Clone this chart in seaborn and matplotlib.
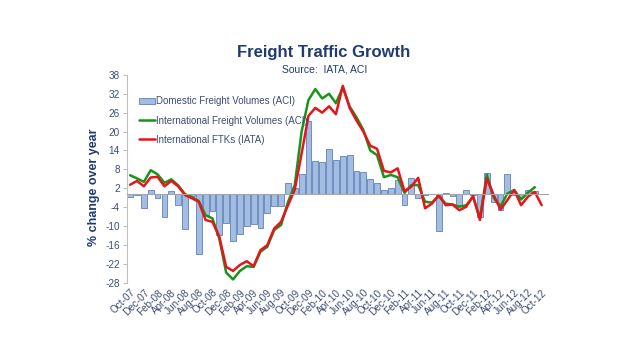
import matplotlib
matplotlib.use("Agg")
import matplotlib.pyplot as plt
import seaborn as sns
import pandas as pd
import numpy as np

# monthly, Oct-07 .. Oct-12
months = pd.date_range("2007-10-01", "2012-10-01", freq="MS").strftime("%b-%y").tolist()

domestic = [-0.9, -0.2, -4.4, 1.5, -1.1, -7.0, 1.1, -3.4, -11.1, -0.4,
            -19.0, -6.5, -5.1, -12.9, -9.2, -14.7, -12.4, -10.1, -9.5, -10.6,
            -6.0, -3.6, -3.6, 3.8, 2.0, 6.5, 23.3, 10.6, 10.3, 14.6,
            11.1, 12.2, 12.7, 7.6, 7.0, 5.0, 3.8, 1.3, 1.9, 4.5,
            -3.4, 5.1, -1.0, -0.2, 0.2, -11.6, 0.6, -0.5, -3.4, 1.4,
            -0.3, -7.0, 6.7, -2.5, -5.0, 6.5, -0.3, -0.8, 1.4, 1.2,
            np.nan]

intl_aci = [6.1, 5.1, 4.0, 7.7, 6.4, 3.7, 4.8, 2.9, 0.1, -0.8,
            -2.1, -6.6, -7.6, -14.0, -24.8, -27.0, -24.3, -22.8, -23.0, -18.2,
            -16.6, -11.3, -9.7, -2.5, 3.0, 20.0, 30.0, 33.5, 30.5, 32.0,
            29.0, 34.0, 28.0, 24.5, 20.5, 14.0, 12.5, 5.5, 6.2, 5.5,
            0.5, 3.0, 3.0, -2.3, -2.6, -0.5, -2.9, -3.2, -3.9, -3.4,
            -0.7, -7.5, 6.3, -1.0, -3.8, 0.3, 1.4, -1.6, 0.6, 2.3,
            np.nan]

intl_iata = [3.1, 4.3, 2.6, 5.4, 5.6, 2.6, 4.3, 2.6, -0.2, -1.2,
             -2.3, -8.1, -8.7, -13.4, -23.0, -24.3, -22.4, -21.2, -22.8, -17.7,
             -16.1, -10.8, -8.7, -3.5, 1.5, 13.0, 25.0, 27.5, 26.0, 28.0,
             25.5, 34.5, 27.5, 23.5, 20.0, 15.5, 14.5, 7.5, 7.0, 8.3,
             1.0, 2.5, 5.3, -4.4, -2.9, -0.2, -3.4, -3.2, -5.0, -3.9,
             -0.5, -8.1, 5.1, -0.2, -4.8, -1.8, 1.4, -3.4, -0.7, 0.8,
             -3.4]

yticks = list(range(-28, 39, 6))

df = pd.DataFrame({"month": months, "domestic": domestic,
                   "aci": intl_aci, "iata": intl_iata})

navy = "#1F3B6F"
txt = "#3C4E72"

sns.set_style("white")
plt.rcParams["font.family"] = ["Liberation Sans", "DejaVu Sans"]

fig = plt.figure(figsize=(6.4, 3.6), dpi=100)
ax = fig.add_axes([0.198, 0.215, 0.658, 0.577])

sns.barplot(data=df, x="month", y="domestic", color="#A3BCE2", edgecolor="#5F80B8",
            linewidth=0.6, width=0.85, saturation=1,
            label="Domestic Freight Volumes (ACI)", ax=ax)
sns.lineplot(data=df, x="month", y="aci", color="#17951A", lw=1.8, sort=False,
             label="International Freight Volumes (ACI)", ax=ax)
sns.lineplot(data=df, x="month", y="iata", color="#E8141B", lw=1.8, sort=False,
             label="International FTKs (IATA)", ax=ax)

# category axis sits on the zero line, labels hang below the plot
ax.spines["top"].set_visible(False)
ax.spines["right"].set_visible(False)
ax.spines["left"].set_color("#BFBFBF")
ax.spines["bottom"].set_color("#A6A6A6")
ax.spines["bottom"].set_position(("data", 0))

ax.set_xlim(-0.5, 60.9)
ax.set_ylim(-28, 38)
ax.set_yticks(yticks)
ax.set_yticklabels([str(t) for t in yticks], fontsize=7.2, color=txt)
ax.set_xticks(range(0, len(months), 2))
ax.set_xticklabels(months[::2], rotation=45, ha="right", rotation_mode="anchor",
                   fontsize=7.2, color=txt)
ax.tick_params(axis="x", length=3, color="#A6A6A6", pad=64)
ax.tick_params(axis="y", length=3, color="#BFBFBF", pad=2, left=True)

ax.set_xlabel("")
ax.set_ylabel("% change over year", fontsize=9, fontweight="bold", color=navy)
ax.yaxis.set_label_coords(-0.064, 0.46)

handles, labels = ax.get_legend_handles_labels()
order = ["Domestic Freight Volumes (ACI)", "International Freight Volumes (ACI)",
         "International FTKs (IATA)"]
hmap = dict(zip(labels, handles))
ax.legend([hmap[l] for l in order], order, loc="upper left",
          bbox_to_anchor=(0.02, 0.915), frameon=False, fontsize=7,
          labelspacing=0.95, handlelength=1.6, handletextpad=0.15,
          labelcolor=txt, borderaxespad=0)

fig.text(0.505, 1 - 52 / 360, "Freight Traffic Growth", ha="center", va="center",
         fontsize=12, fontweight="bold", color=navy)
fig.text(0.508, 1 - 69 / 360, "Source:  IATA, ACI", ha="center", va="center",
         fontsize=7.5, color=navy)

fig.savefig("out.png", dpi=100)
